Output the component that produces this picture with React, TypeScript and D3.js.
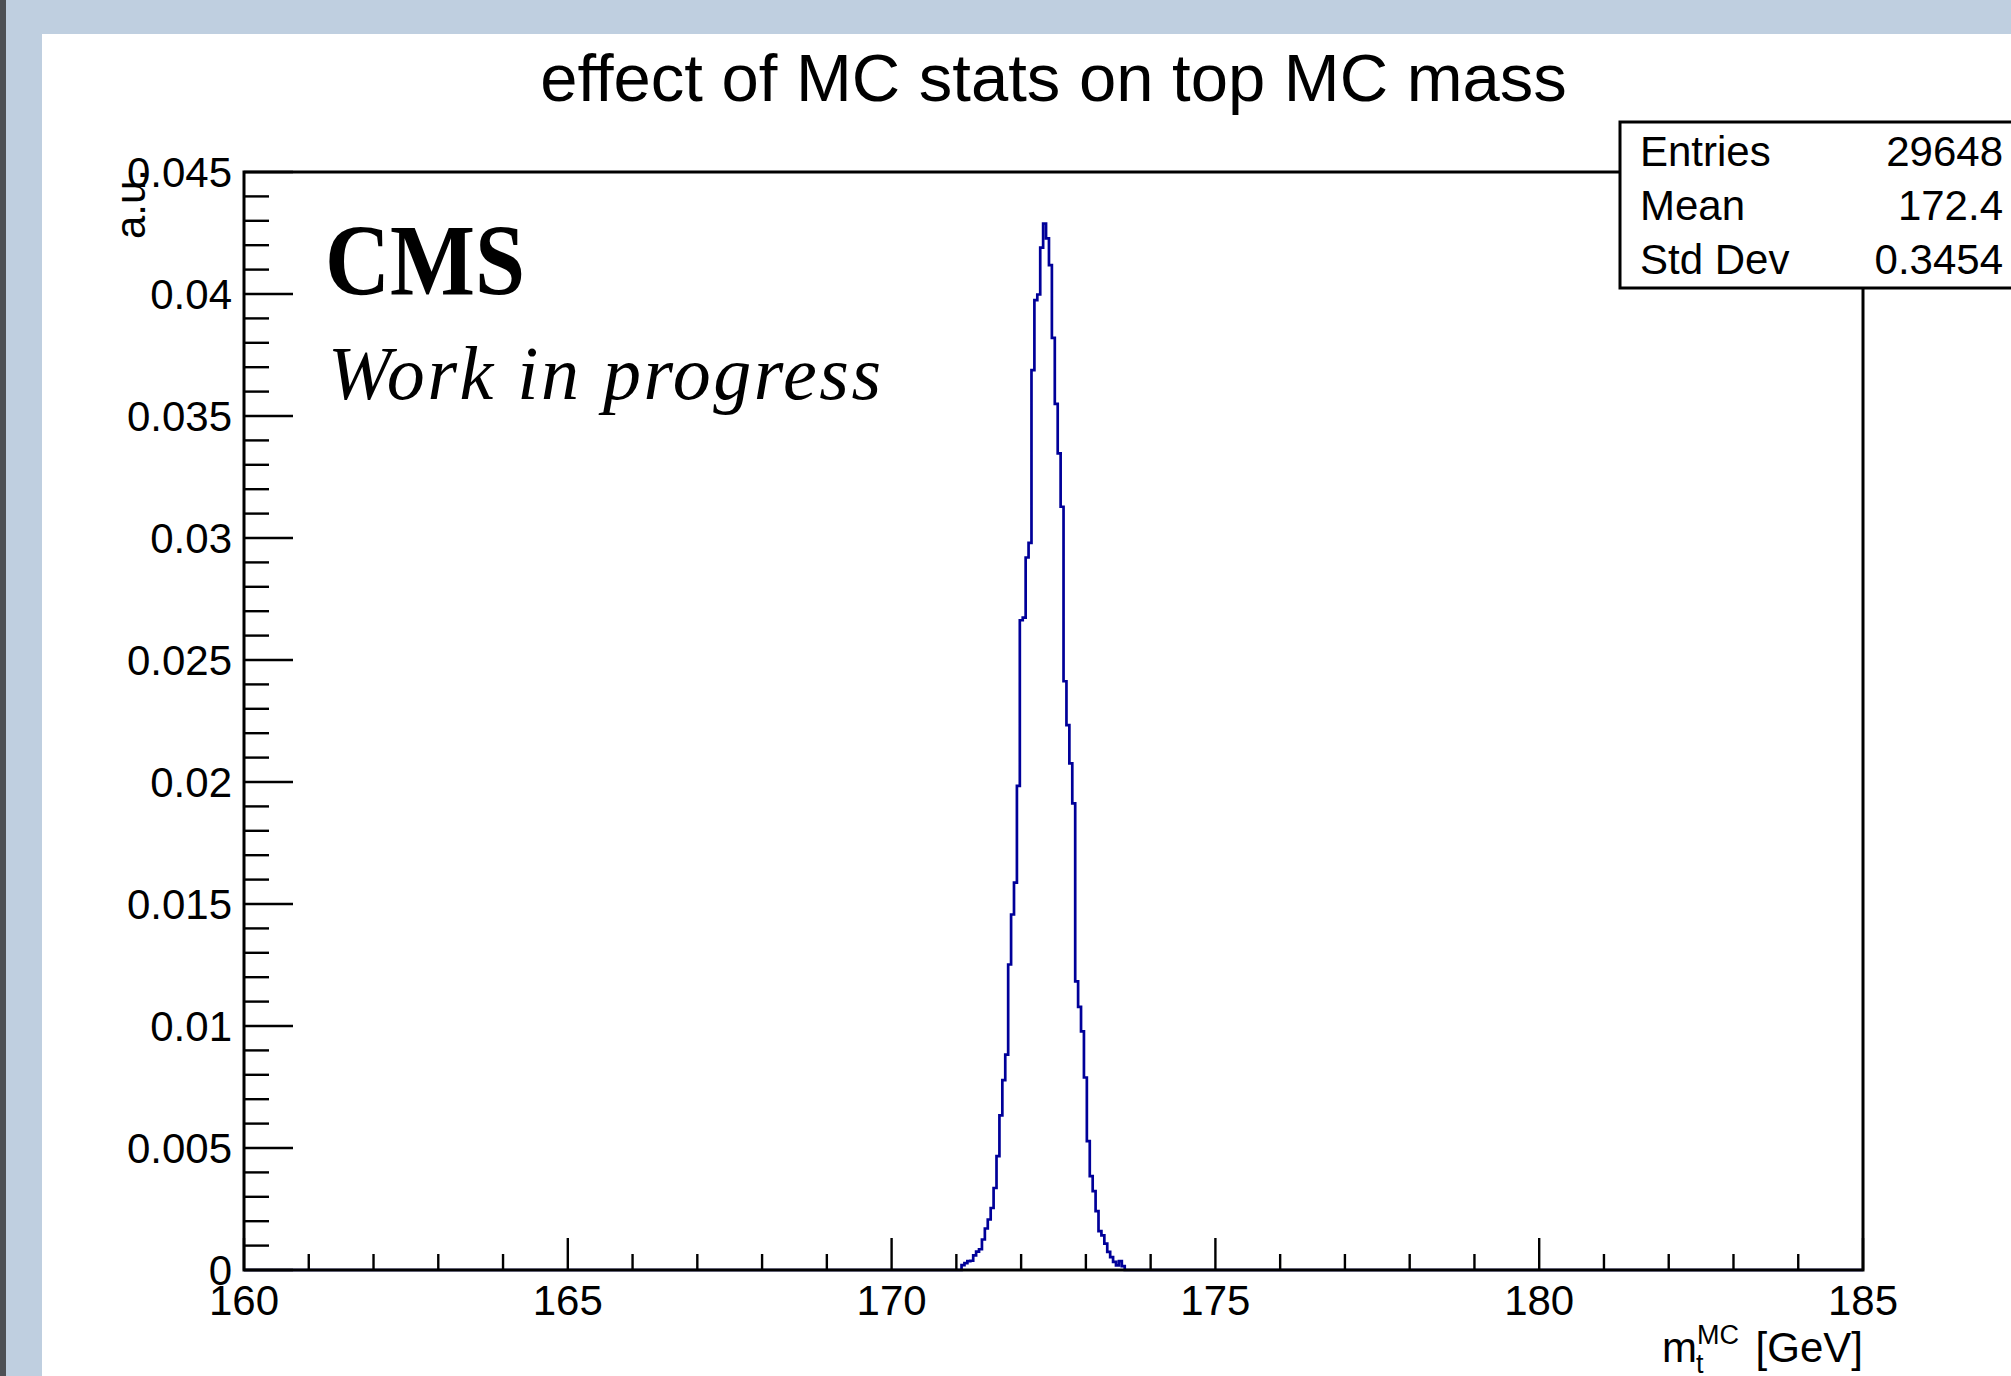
import * as d3 from 'd3';
import React from 'react';

// histogram of m_t^MC, bins of 0.045 GeV starting at 171.08
const binLow = 171.08;
const binWidth = 0.045;
const binValues = [
  0.0002, 0.00028, 0.00036, 0.00038, 0.0006, 0.00075, 0.00085, 0.00125,
  0.0017, 0.00207, 0.00254, 0.00336, 0.00467, 0.00634, 0.00778, 0.00883,
  0.01252, 0.01457, 0.01588, 0.01984, 0.02663, 0.02674, 0.0292, 0.0298,
  0.03688, 0.03975, 0.03998, 0.0419, 0.04289, 0.04228, 0.04118, 0.0382,
  0.0355, 0.03347, 0.03128, 0.02413, 0.02233, 0.02076, 0.01912, 0.01183,
  0.01078, 0.00978, 0.00789, 0.00528, 0.00385, 0.00323, 0.00241, 0.00159,
  0.00142, 0.00108, 0.00074, 0.00053, 0.00033, 0.00019, 0.00036, 0.00016,
];

const xMajorTicks = [160, 165, 170, 175, 180, 185];
const xTickLabels = ['160', '165', '170', '175', '180', '185'];
const yMajorTicks = [0, 0.005, 0.01, 0.015, 0.02, 0.025, 0.03, 0.035, 0.04, 0.045];
const yTickLabels = ['0', '0.005', '0.01', '0.015', '0.02', '0.025', '0.03', '0.035', '0.04', '0.045'];

const statNames = ['Entries', 'Mean', 'Std Dev'];
const statValues = ['29648', '172.4', '0.3454'];

const W = 2011;
const H = 1376;
const frame = { left: 244, right: 1863, top: 172, bottom: 1270 };

const sans = "'Liberation Sans', Arial, Helvetica, sans-serif";
const serif = "'Liberation Serif', 'Times New Roman', serif";
const histColor = '#000099';

export default function App() {
  const x = d3.scaleLinear().domain([160, 185]).range([frame.left, frame.right]);
  const y = d3.scaleLinear().domain([0, 0.045]).range([frame.bottom, frame.top]);

  const edge = (i: number) => binLow + i * binWidth;
  const pts: [number, number][] = [[160, 0], [edge(0), 0]];
  binValues.forEach((v, i) => pts.push([edge(i), v]));
  pts.push([edge(binValues.length), 0]);
  pts.push([185, 0]);

  const line = d3.line<[number, number]>()
    .x(d => x(d[0]))
    .y(d => y(d[1]))
    .curve(d3.curveStepAfter);

  const xMinor = d3.range(160, 185.001, 1).filter(v => !xMajorTicks.includes(v));
  const yMinor = d3.range(0, 46).map(k => k / 1000).filter(v => !yMajorTicks.some(m => Math.abs(m - v) < 1e-9));

  const xMajLen = 32, xMinLen = 16;
  const yMajLen = 49, yMinLen = 25;

  return (
    <div style={{ position: 'fixed', left: 0, top: 0, width: W, height: H, overflow: 'hidden' }}>
      <svg width={W} height={H} style={{ display: 'block' }}>
        {/* window background */}
        <rect x={0} y={0} width={W} height={H} fill="#bfcfe0" />
        <rect x={0} y={0} width={6} height={H} fill="#4d5055" />
        <rect x={42} y={34} width={W - 42} height={H - 34} fill="#ffffff" />

        {/* title */}
        <text x={(frame.left + frame.right) / 2} y={101} textAnchor="middle"
          fontFamily={sans} fontSize={67} fill="#000">effect of MC stats on top MC mass</text>

        {/* histogram */}
        <path d={line(pts) || ''} fill="none" stroke={histColor} strokeWidth={2.7} strokeLinejoin="miter" />

        {/* frame */}
        <rect x={frame.left} y={frame.top} width={frame.right - frame.left}
          height={frame.bottom - frame.top} fill="none" stroke="#000" strokeWidth={3} />

        {/* x ticks */}
        {xMajorTicks.map(v => (
          <line key={'xM' + v} x1={x(v)} x2={x(v)} y1={frame.bottom} y2={frame.bottom - xMajLen}
            stroke="#000" strokeWidth={2.4} />
        ))}
        {xMinor.map(v => (
          <line key={'xm' + v} x1={x(v)} x2={x(v)} y1={frame.bottom} y2={frame.bottom - xMinLen}
            stroke="#000" strokeWidth={2.4} />
        ))}
        {xMajorTicks.map((v, i) => (
          <text key={'xl' + v} x={x(v)} y={1315} textAnchor="middle" fontFamily={sans} fontSize={42}>
            {xTickLabels[i]}
          </text>
        ))}

        {/* y ticks */}
        {yMajorTicks.map(v => (
          <line key={'yM' + v} x1={frame.left} x2={frame.left + yMajLen} y1={y(v)} y2={y(v)}
            stroke="#000" strokeWidth={2.4} />
        ))}
        {yMinor.map(v => (
          <line key={'ym' + v} x1={frame.left} x2={frame.left + yMinLen} y1={y(v)} y2={y(v)}
            stroke="#000" strokeWidth={2.4} />
        ))}
        {yMajorTicks.map((v, i) => (
          <text key={'yl' + v} x={frame.left - 12} y={y(v) + 15} textAnchor="end" fontFamily={sans} fontSize={42}>
            {yTickLabels[i]}
          </text>
        ))}

        {/* axis titles */}
        <text transform={`translate(145,${frame.top - 3}) rotate(-90)`} textAnchor="end"
          fontFamily={sans} fontSize={42}>a.u.</text>
        <g fontFamily={sans}>
          <text x={1662} y={1362} fontSize={42}>m</text>
          <text x={1696} y={1373} fontSize={27}>t</text>
          <text x={1697} y={1344} fontSize={27}>MC</text>
          <text x={frame.right} y={1362} fontSize={42} textAnchor="end">[GeV]</text>
        </g>

        {/* CMS label */}
        <text x={325} y={295} fontFamily={serif} fontWeight="bold" fontSize={102}
          textLength={200} lengthAdjust="spacingAndGlyphs">CMS</text>
        <text x={328} y={399} fontFamily={serif} fontStyle="italic" fontSize={76}
          textLength={553} lengthAdjust="spacing">Work in progress</text>

        {/* stats box */}
        <rect x={1620} y={122} width={440} height={166} fill="#fff" stroke="#000" strokeWidth={3} />
        {statNames.map((s, i) => (
          <g key={s} fontFamily={sans} fontSize={42}>
            <text x={1640} y={166 + i * 54}>{s}</text>
            <text x={2003} y={166 + i * 54} textAnchor="end">{statValues[i]}</text>
          </g>
        ))}
      </svg>
    </div>
  );
}
